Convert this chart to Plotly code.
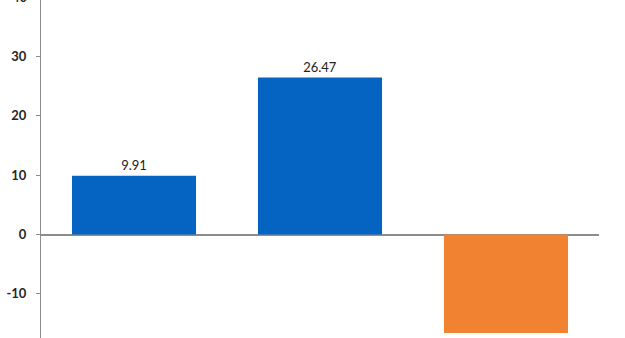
import plotly.graph_objects as go

categories = ["Category 1", "Category 2", "Category 3"]
values = [9.91, 26.47, -16.6]
bar_colors = ["#0563C1", "#0563C1", "#F18232"]
tick_values = [-10, 0, 10, 20, 30]
tick_labels = ["-10", "0", "10", "20", "30"]
top_tick_value = 40
top_tick_label = "40"

y_min, y_max = -17.45, 39.55

# labels only visible above positive bars (negative bar label falls below the visible area)
bar_texts = [f"{v:.2f}" if v > 0 else "" for v in values]

tick_font = dict(family="Lato, Open Sans, sans-serif", size=13, color="#262626", weight="bold")

fig = go.Figure()
fig.add_trace(go.Bar(
    x=categories,
    y=values,
    marker=dict(color=bar_colors, line=dict(width=0)),
    text=bar_texts,
    textposition="outside",
    textfont=dict(family="Lato, Open Sans, sans-serif", size=13, color="#222222"),
    cliponaxis=True,
    showlegend=False,
))

fig.update_layout(
    width=625,
    height=338,
    margin=dict(l=41, r=26, t=0, b=0),
    paper_bgcolor="white",
    plot_bgcolor="white",
    bargap=0.333,
    xaxis=dict(
        showticklabels=False,
        showgrid=False,
        zeroline=False,
        showline=False,
        ticks="",
    ),
    yaxis=dict(
        range=[y_min, y_max],
        tickvals=tick_values,
        ticktext=tick_labels,
        showgrid=False,
        zeroline=True,
        zerolinecolor="#8c8c8c",
        zerolinewidth=1.5,
        showline=True,
        linecolor="#8c8c8c",
        linewidth=1,
        ticks="outside",
        ticklen=4,
        tickcolor="#8c8c8c",
        ticklabelstandoff=7,
        tickfont=tick_font,
    ),
    annotations=[dict(
        x=0, xref="paper", xanchor="right", xshift=-11,
        y=(top_tick_value - y_min) / (y_max - y_min), yref="paper", yanchor="middle",
        text=top_tick_label, showarrow=False,
        font=tick_font,
    )],
)

fig.write_html("out.html")
